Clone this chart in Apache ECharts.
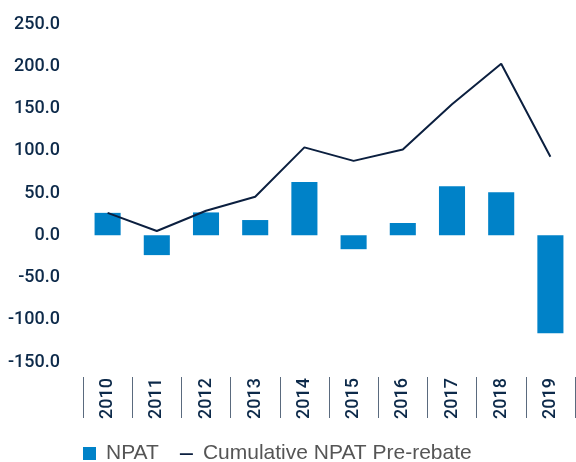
<!DOCTYPE html>
<html>
<head>
<meta charset="utf-8">
<script src="https://cdn.jsdelivr.net/npm/echarts@6/dist/echarts.min.js"></script>
<style>html,body{margin:0;padding:0;background:#fff}#c{width:576px;height:462px}</style>
</head>
<body>
<div id="c"></div>
<script>
var years = ['2010','2011','2012','2013','2014','2015','2016','2017','2018','2019'];
var npat = [26.5, -23.5, 27, 18, 63, -16.5, 14.5, 58, 51, -116];
var cumulative = [26.5, 5, 29, 45.5, 104, 88, 101.5, 155, 203, 93];
var yTicks = [-150, -100, -50, 0, 50, 100, 150, 200, 250];

var lineIcon = 'path://M0,0L0.01,0L0,0.01Z M0,6.3H13V8H0Z M13,13L12.99,13L13,12.99Z';

var chart = echarts.init(document.getElementById('c'));
chart.setOption({
  animation: false,
  textStyle: { fontFamily: 'Liberation Sans, Arial, sans-serif' },
  grid: { left: 83, right: 1, top: 24, bottom: 100 },
  legend: {
    left: 78, top: 438,
    itemWidth: 13, itemHeight: 13, itemGap: 21,
    textStyle: { color: '#555', fontSize: 21, padding: [0, 0, 4, 5] },
    data: [{ name: 'NPAT', icon: 'rect' }, { name: 'Cumulative NPAT Pre-rebate', icon: lineIcon }]
  },
  xAxis: {
    type: 'category', data: years, offset: 15,
    axisLine: { show: false, onZero: false },
    axisTick: { show: true, length: 41, lineStyle: { color: '#5a6a7e', width: 1 } },
    axisLabel: { rotate: 90, margin: 1, fontSize: 18, color: '#0d2a4a',
      fontFamily: 'Roboto, Liberation Sans, sans-serif', fontWeight: 500 }
  },
  yAxis: {
    type: 'value', min: yTicks[0], max: yTicks[yTicks.length - 1], interval: 50,
    axisLine: { show: false }, axisTick: { show: false }, splitLine: { show: false },
    axisLabel: { margin: 23, fontSize: 18, color: '#0d2a4a', padding: [4, 0, 0, 0],
      fontFamily: 'Roboto, Liberation Sans, sans-serif', fontWeight: 500,
      formatter: function (v) { return v.toFixed(1); } }
  },
  series: [
    { name: 'NPAT', type: 'bar', data: npat, barWidth: '53%', itemStyle: { color: '#0082c8' } },
    { name: 'Cumulative NPAT Pre-rebate', type: 'line', data: cumulative, symbol: 'none',
      lineStyle: { color: '#0b1f3f', width: 2 }, itemStyle: { color: '#0b1f3f' } }
  ]
});
</script>
</body>
</html>
